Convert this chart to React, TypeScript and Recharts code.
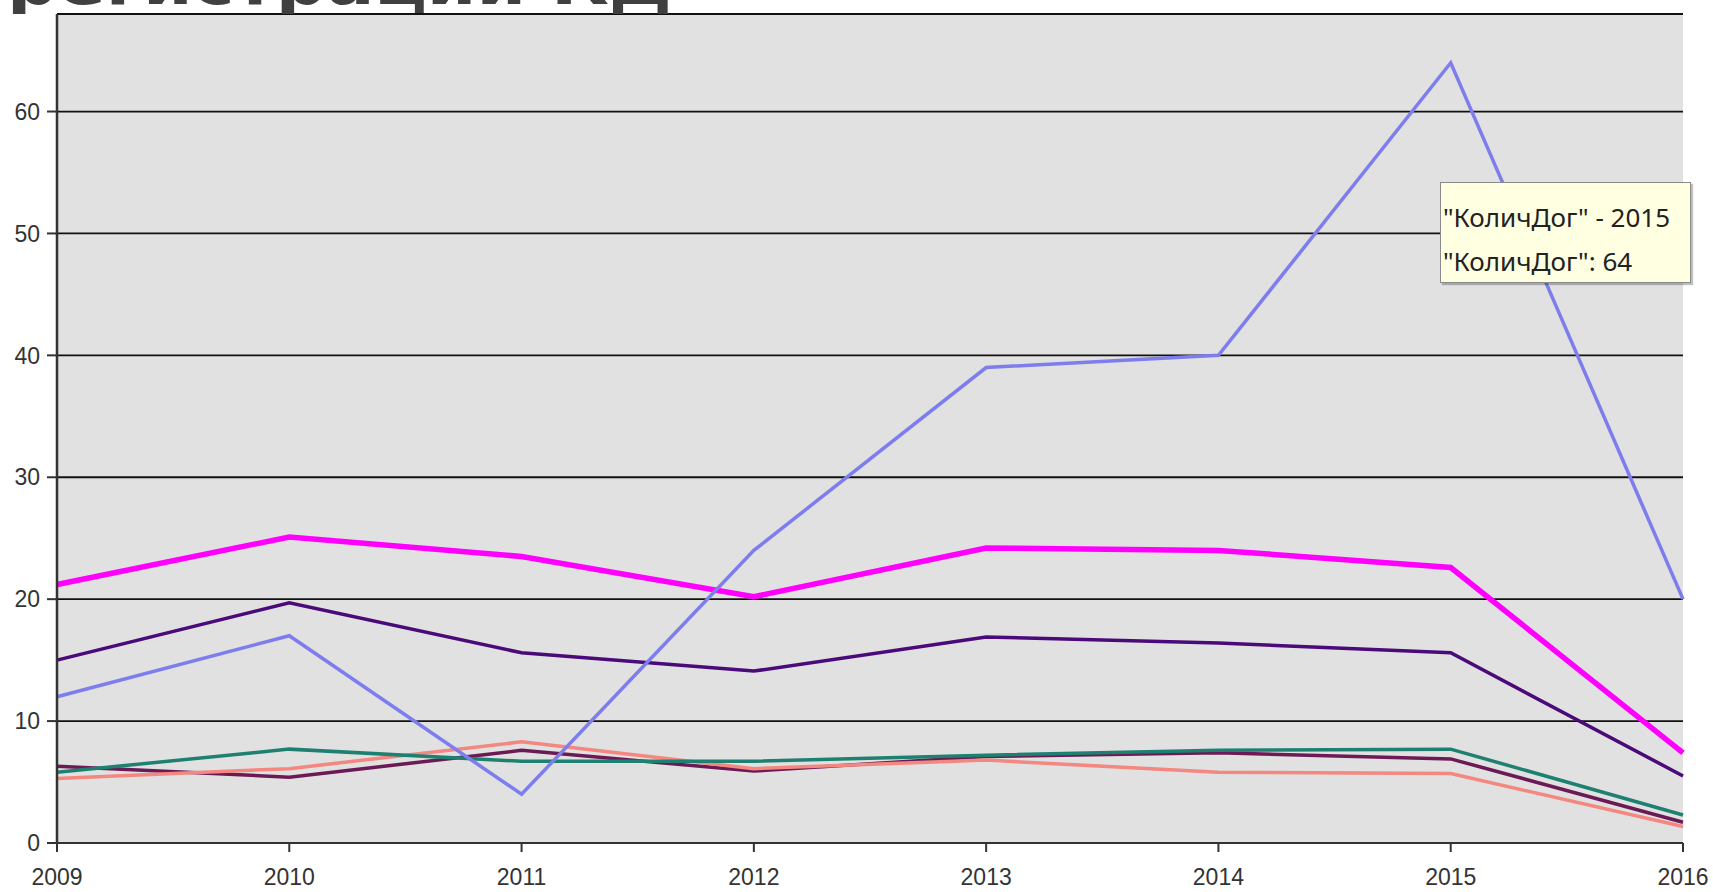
import React from 'react';
import { LineChart, Line, XAxis, YAxis, CartesianGrid } from 'recharts';

const years = ['2009', '2010', '2011', '2012', '2013', '2014', '2015', '2016'];
const kolichDog = [12, 17, 4, 24, 39, 40, 64, 20];
const magentaSeries = [21.2, 25.1, 23.5, 20.2, 24.2, 24.0, 22.6, 7.4];
const purpleSeries = [15.0, 19.7, 15.6, 14.1, 16.9, 16.4, 15.6, 5.5];
const tealSeries = [5.8, 7.7, 6.7, 6.7, 7.2, 7.6, 7.7, 2.3];
const salmonSeries = [5.3, 6.1, 8.3, 6.1, 6.8, 5.8, 5.7, 1.35];
const maroonSeries = [6.3, 5.4, 7.6, 5.9, 7.1, 7.4, 6.9, 1.7];
const yTicks = [0, 10, 20, 30, 40, 50, 60];

const data = years.map((y, i) => ({
  year: y,
  kolichDog: kolichDog[i],
  magenta: magentaSeries[i],
  purple: purpleSeries[i],
  teal: tealSeries[i],
  salmon: salmonSeries[i],
  maroon: maroonSeries[i],
}));

const tickStyle = { fontFamily: '"Liberation Sans", Arial, sans-serif', fontSize: 23, fill: '#333' };

export default function App() {
  return (
    <div style={{ position: 'absolute', left: 0, top: 0, width: 1713, height: 892, background: '#fff', overflow: 'hidden' }}>
      <LineChart
        width={1713}
        height={892}
        data={data}
        margin={{ top: 14, right: 30, bottom: 19, left: 12 }}
      >
        <CartesianGrid vertical={false} stroke="#111" strokeWidth={1.8} fill="#E1E1E1" />
        <XAxis
          dataKey="year"
          tick={tickStyle}
          tickSize={9}
          tickMargin={17}
          axisLine={{ stroke: '#333', strokeWidth: 2 }}
          tickLine={{ stroke: '#333', strokeWidth: 2 }}
          interval={0}
          height={30}
        />
        <YAxis
          domain={[0, 68]}
          ticks={yTicks}
          tick={tickStyle}
          tickSize={10}
          tickMargin={7}
          width={45}
          axisLine={{ stroke: '#333', strokeWidth: 2.5 }}
          tickLine={{ stroke: '#333', strokeWidth: 2 }}
          allowDataOverflow
        />
        <Line type="linear" dataKey="maroon" stroke="#6B1A55" strokeWidth={3.5} dot={false} isAnimationActive={false} />
        <Line type="linear" dataKey="salmon" stroke="#F4877F" strokeWidth={3.5} dot={false} isAnimationActive={false} />
        <Line type="linear" dataKey="teal" stroke="#1E8070" strokeWidth={3.5} dot={false} isAnimationActive={false} />
        <Line type="linear" dataKey="purple" stroke="#4B0A7A" strokeWidth={3.5} dot={false} isAnimationActive={false} />
        <Line type="linear" dataKey="magenta" stroke="#FF00FF" strokeWidth={5.5} dot={false} isAnimationActive={false} />
        <Line type="linear" dataKey="kolichDog" stroke="#7D7DEE" strokeWidth={3.5} dot={false} isAnimationActive={false} />
      </LineChart>

      <svg width={700} height={14} style={{ position: 'absolute', left: 0, top: 0 }}>
        <text
          x={7}
          y={4}
          fontFamily='"DejaVu Sans", sans-serif'
          fontWeight="bold"
          fontSize={62}
          fill="#404040"
          textLength={665}
          lengthAdjust="spacingAndGlyphs"
        >
          регистрации КД
        </text>
      </svg>

      <div
        style={{
          position: 'absolute',
          left: 1440,
          top: 182,
          width: 251,
          height: 101,
          boxSizing: 'border-box',
          background: '#FFFFE1',
          border: '1px solid #8a8a8a',
          boxShadow: '2px 2px 1px rgba(0,0,0,0.25)',
          fontFamily: '"Noto Sans", "DejaVu Sans", sans-serif',
          fontSize: 26,
          color: '#222',
          paddingLeft: 2,
          lineHeight: '44px',
          paddingTop: 12,
          whiteSpace: 'nowrap',
          overflow: 'hidden',
        }}
      >
        <div>"КоличДог" - 2015</div>
        <div>"КоличДог": 64</div>
      </div>
    </div>
  );
}
